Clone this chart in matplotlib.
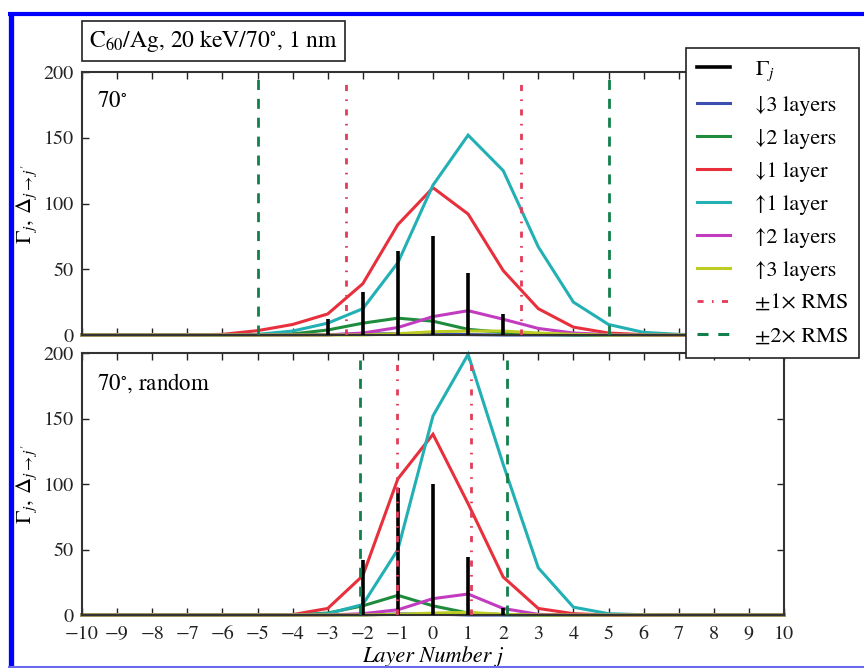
import matplotlib
matplotlib.use("Agg")
import matplotlib.pyplot as plt
from matplotlib.lines import Line2D
import numpy as np

plt.rcParams['font.family'] = ['STIXGeneral', 'DejaVu Serif']
plt.rcParams['mathtext.fontset'] = 'stix'

# Layer index j
layers = list(range(-10, 11))

def on_layers(values):
    """Expand a {j: value} mapping onto the full layer axis."""
    return [values.get(j, 0.0) for j in layers]

# ---- 70 deg ----
gamma_a = on_layers({-3: 12, -2: 33, -1: 64, 0: 75, 1: 47, 2: 16})
down3_a = on_layers({-3: 0.3, -2: 0.8, -1: 1.0, 0: 0.8, 1: 0.3})
down2_a = on_layers({-4: 0.8, -3: 3.8, -2: 9, -1: 12.8, 0: 10.5, 1: 4.3, 2: 2, 3: 0.5})
down1_a = on_layers({-6: 0.5, -5: 3.3, -4: 8, -3: 16, -2: 39, -1: 84, 0: 112, 1: 92,
                     2: 49, 3: 20, 4: 6, 5: 1.5, 6: 0.3})
up1_a = on_layers({-5: 0.5, -4: 3, -3: 9, -2: 20, -1: 55, 0: 114, 1: 152, 2: 125,
                   3: 67, 4: 25, 5: 8, 6: 2, 7: 0.5})
up2_a = on_layers({-2: 1.5, -1: 5.7, 0: 14, 1: 18.5, 2: 12, 3: 5, 4: 1.5, 5: 0.3})
up3_a = on_layers({-1: 1, 0: 2.5, 1: 3, 2: 3, 3: 1.5, 4: 0.5})
center_a, rms_a = 0.02, 2.5

# ---- 70 deg, random ----
gamma_b = on_layers({-2: 42, -1: 97, 0: 100, 1: 44, 2: 5})
down3_b = on_layers({-1: 0.8, 0: 0.8})
down2_b = on_layers({-3: 1.5, -2: 7, -1: 15, 0: 7, 1: 1.5, 2: 0.3})
down1_b = on_layers({-4: 0.3, -3: 5, -2: 30, -1: 104, 0: 138, 1: 85, 2: 29, 3: 5, 4: 1})
up1_b = on_layers({-3: 1, -2: 8, -1: 50, 0: 152, 1: 199, 2: 115, 3: 36, 4: 6, 5: 1, 6: 0.2})
up2_b = on_layers({-2: 1, -1: 4, 0: 12.5, 1: 16, 2: 5, 3: 0.5})
up3_b = on_layers({-1: 0.5, 0: 1.5, 1: 2, 2: 0.5})
center_b, rms_b = 0.02, 1.05

series_labels = ['↓3 layers', '↓2 layers', '↓1 layer', '↑1 layer', '↑2 layers', '↑3 layers']
series_colors = ['#3c4fb0', '#1e8c3c', '#e8303c', '#22b0b4', '#c23cc0', '#bccc22']
rms_color1 = '#e23c5a'
rms_color2 = '#12804a'
rms_style1 = (0, (2.2, 3.0, 0.6, 3.0))
rms_style2 = (0, (3.6, 3.2))

W, H = 864, 668
fig = plt.figure(figsize=(W / 100, H / 100), dpi=100)

ax1 = fig.add_axes([82 / W, 1 - 335 / H, 702 / W, 263 / H])
ax2 = fig.add_axes([82 / W, 1 - 615 / H, 702 / W, 262 / H])

panels = [
    (ax1, gamma_a, [down3_a, down2_a, down1_a, up1_a, up2_a, up3_a], center_a, rms_a, '70$^{\\circ}$'),
    (ax2, gamma_b, [down3_b, down2_b, down1_b, up1_b, up2_b, up3_b], center_b, rms_b, '70$^{\\circ}$, random'),
]

for ax, gamma, curves, c, rms, tag in panels:
    for vals, col in zip(curves, series_colors):
        ax.plot(layers, vals, color=col, lw=2.2, solid_joinstyle='miter', clip_on=False, zorder=2)
    ax.vlines(layers, 0, gamma, color='black', lw=2.6, zorder=3)
    for k in (-1, 1):
        ax.vlines(c + k * rms, 0, 195, color=rms_color1, lw=2.0,
                  linestyles=[rms_style1], zorder=4)
        ax.vlines(c + 2 * k * rms, 0, 195, color=rms_color2, lw=2.0,
                  linestyles=[rms_style2], zorder=4)
    ax.set_xlim(-10, 10)
    ax.set_ylim(0, 200)
    ax.set_xticks(layers)
    ax.set_yticks([0, 50, 100, 150, 200])
    ax.tick_params(direction='in', top=True, right=True, length=5, width=1,
                   labelsize=14.5, pad=6, colors='#222222')
    ax.tick_params(axis='x', pad=8)
    for sp in ax.spines.values():
        sp.set_color('#333333')
        sp.set_linewidth(1.5)
    ax.text(0.021, 0.93, tag, transform=ax.transAxes, fontsize=16.5, va='top', ha='left')
    ax.set_ylabel('$\\Gamma_j,\\,\\Delta_{j\\rightarrow j^{\\prime}}$', fontsize=16, labelpad=3)

ax1.tick_params(labelbottom=False)
ax2.set_xlabel('Layer Number j', fontsize=16, fontstyle='italic', labelpad=2)

# Title box
fig.text(89 / W, 1 - 41 / H, 'C$_{60}$/Ag, 20 keV/70$^{\\circ}$, 1 nm', fontsize=17,
         ha='left', va='center',
         bbox=dict(boxstyle='square,pad=0.3', fc='white', ec='#222222', lw=1.2))

# Legend
handles = [Line2D([], [], color='black', lw=2.6)]
handles += [Line2D([], [], color=col, lw=2.2) for col in series_colors]
handles += [Line2D([], [], color=rms_color1, lw=2.0, linestyle=rms_style1),
            Line2D([], [], color=rms_color2, lw=2.2, linestyle=rms_style2)]
labels = ['$\\Gamma_j$'] + series_labels + ['±1× RMS', '±2× RMS']
leg = fig.legend(handles, labels, loc='upper left', bbox_to_anchor=(686 / W, 1 - 48 / H),
                 bbox_transform=fig.transFigure, borderaxespad=0, fancybox=False,
                 framealpha=1, edgecolor='#222222', fontsize=16, handlelength=1.5,
                 handletextpad=1.1, borderpad=0.5, labelspacing=0.56)
leg.get_frame().set_linewidth(1.2)

# Blue frame
fig.add_artist(Line2D([10.5 / W, 10.5 / W], [0, 1 - 12 / H], transform=fig.transFigure,
                      color='#0000ff', lw=3.8, solid_capstyle='butt'))
fig.add_artist(Line2D([8 / W, 1], [1 - 14 / H, 1 - 14 / H], transform=fig.transFigure,
                      color='#0000ff', lw=3.0, solid_capstyle='butt'))
fig.add_artist(Line2D([8 / W, 1], [1 - 666.5 / H, 1 - 666.5 / H], transform=fig.transFigure,
                      color='#6a6af0', lw=1.5, solid_capstyle='butt'))

fig.savefig('out.png', dpi=100)
